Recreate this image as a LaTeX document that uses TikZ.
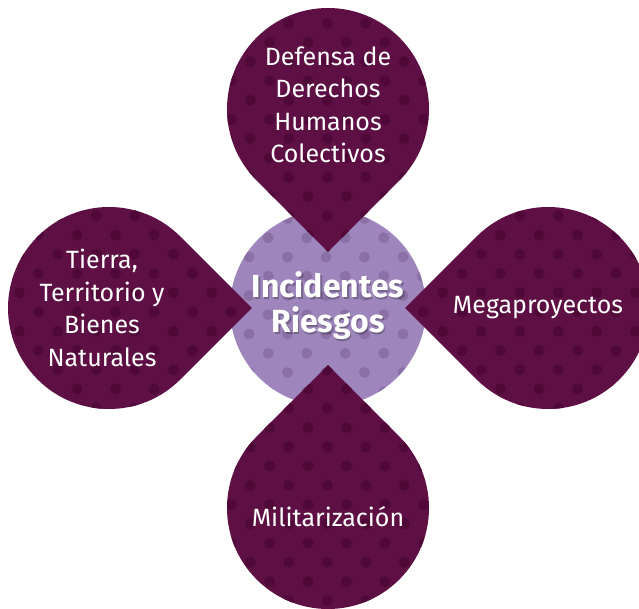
\documentclass[tikz,border=0pt]{standalone}
\usepackage{fontspec}
\setmainfont{Fira Sans}
\definecolor{darkplum}{RGB}{94,16,68}
\definecolor{darkdot}{RGB}{79,8,56}
\definecolor{lilac}{RGB}{158,134,188}
\definecolor{lilacdot}{RGB}{138,112,164}
\tikzset{
  labeltext/.style={text=white, align=center, font=\fontsize{25}{32.5}\selectfont, inner sep=0pt},
  centertext/.style={text=white, align=center, font=\bfseries\fontsize{32}{35}\selectfont, inner sep=0pt},
}
% teardrop: #1 centre, #2 direction of tip, #3 radius
\newcommand{\dropshape}[3]{(#1) ++(#2:{#3*1.41421}) -- ([shift={(#2+45:#3)}]#1) arc[start angle=#2+45, end angle=#2+315, radius=#3] -- cycle}
\begin{document}
\begin{tikzpicture}[x=1pt,y=1pt]
\useasboundingbox (0,0) rectangle (639,608);
\fill[white] (0,0) rectangle (639,608);
\coordinate (cC) at (328,300);
\coordinate (cT) at (328,499);
\coordinate (cL) at (109,300);
\coordinate (cR) at (548,300);
\coordinate (cB) at (328,100);
% central circle
\fill[lilac] (cC) circle[radius=98];
\begin{scope}
  \clip (cC) circle[radius=98];
  \foreach \b in {-4,...,7}{
    \pgfmathtruncatemacro\o{mod(\b+4,2)}
    \foreach \a in {-2,...,5}{
      \fill[lilacdot] ({249+(2*\a+\o)*19.25},{608-257-\b*19.25}) circle[radius=5.5];
    }
  }
\end{scope}
% teardrops
\fill[darkplum] \dropshape{cT}{-90}{101};
\fill[darkplum] \dropshape{cL}{0}{101};
\fill[darkplum] \dropshape{cR}{180}{101};
\fill[darkplum] \dropshape{cB}{90}{101};
\begin{scope}
  \clip \dropshape{cT}{-90}{101} \dropshape{cL}{0}{101} \dropshape{cR}{180}{101} \dropshape{cB}{90}{101};
  \foreach \j in {0,...,32}{
    \pgfmathtruncatemacro\o{mod(\j,2)}
    \foreach \i in {0,...,17}{
      \fill[darkdot] ({(2*\i+\o)*19.25},{608-4-\j*19.25}) circle[radius=5.5];
    }
  }
\end{scope}
% texts
\node[labeltext] (top) at (328,503) {Defensa de\\Derechos\\Humanos\\Colectivos};
\node[labeltext] (left) at (102,300) {Tierra,\\Territorio y\\Bienes\\Naturales};
\node[labeltext] (right) at (538,300) {Megaproyectos};
\node[labeltext] (bottom) at (328,91) {Militarización};
\node[centertext, text=black, opacity=0.25] at (329.5,300.5) {Incidentes\\Riesgos};
\node[centertext] (center) at (328,302) {Incidentes\\Riesgos};
\end{tikzpicture}
\end{document}
